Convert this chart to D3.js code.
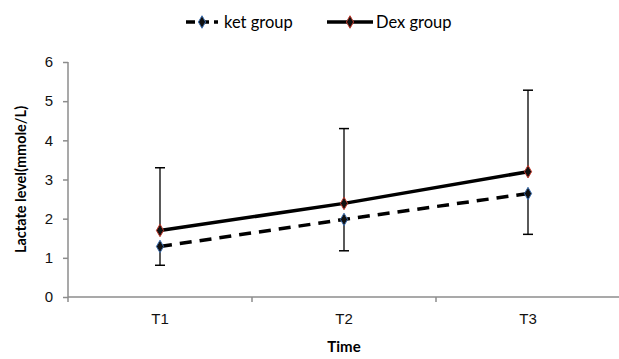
<!DOCTYPE html>
<html>
<head>
<meta charset="utf-8">
<script src="https://cdn.jsdelivr.net/npm/d3@7"></script>
<style>
  body { margin: 0; background: #fff; }
  svg { font-family: "Lato", "Open Sans", sans-serif; }
  .axis path, .axis line { stroke: #8c8c8c; stroke-width: 1.5; }
  .axis text { fill: #111; font-size: 15px; }
</style>
</head>
<body>
<svg id="chart"></svg>
<script>
var width = 619;
var height = 359;

var times = ["T1", "T2", "T3"];
var ketMean = [1.29, 1.98, 2.64];
var dexMean = [1.70, 2.39, 3.20];
// upper whisker belongs to Dex, lower whisker to ket
var dexUpper = [3.30, 4.30, 5.28];
var ketLower = [0.81, 1.18, 1.60];
var yTicks = [0, 1, 2, 3, 4, 5, 6];

var margin = {left: 68, right: -1, top: 62, bottom: 62};

var svg = d3.select("#chart").attr("width", width).attr("height", height);

var x = d3.scaleBand().domain(times).range([margin.left, width - margin.right]);
var y = d3.scaleLinear().domain([0, 6]).range([height - margin.bottom, margin.top]);

function cx(d) { return x(d) + x.bandwidth() / 2; }

// axes
var yAxis = d3.axisLeft(y).tickValues(yTicks).tickFormat(d3.format("d")).tickSize(5).tickPadding(10);
svg.append("g").attr("class", "axis")
    .attr("transform", "translate(" + margin.left + ",0)")
    .call(yAxis)
    .call(function(g) { g.select(".domain").attr("d", "M0," + y(6) + "V" + y(0)); });

var xAxis = d3.axisBottom(x).tickSize(0).tickPadding(16);
var gx = svg.append("g").attr("class", "axis")
    .attr("transform", "translate(0," + y(0) + ")")
    .call(xAxis);
gx.select(".domain").attr("d", "M" + margin.left + ",0H" + width);
gx.selectAll(".sep").data(times).enter().append("line")
    .attr("x1", function(d) { return x(d); }).attr("x2", function(d) { return x(d); })
    .attr("y1", 0).attr("y2", 5)
    .attr("stroke", "#8c8c8c").attr("stroke-width", 1.5);

// error bars
function errBar(vals, means) {
    svg.append("g").selectAll("g").data(times).enter().append("g").each(function(d, i) {
        var g = d3.select(this);
        g.append("line").attr("x1", cx(d)).attr("x2", cx(d))
            .attr("y1", y(means[i])).attr("y2", y(vals[i]))
            .attr("stroke", "#000").attr("stroke-width", 1.3);
        g.append("line").attr("x1", cx(d) - 5).attr("x2", cx(d) + 5)
            .attr("y1", y(vals[i])).attr("y2", y(vals[i]))
            .attr("stroke", "#000").attr("stroke-width", 1.5);
    });
}
errBar(dexUpper, dexMean);
errBar(ketLower, ketMean);

// lines
var line = d3.line().x(function(d, i) { return cx(times[i]); }).y(function(d) { return y(d); });

svg.append("path").datum(ketMean).attr("d", line)
    .attr("fill", "none").attr("stroke", "#000").attr("stroke-width", 3.5)
    .attr("stroke-dasharray", "12,8");
svg.append("path").datum(dexMean).attr("d", line)
    .attr("fill", "none").attr("stroke", "#000").attr("stroke-width", 3.5);

var diamond = d3.symbol().type(d3.symbolDiamond).size(45);
function markers(vals, edge) {
    svg.append("g").selectAll("path").data(vals).enter().append("path")
        .attr("d", diamond)
        .attr("transform", function(d, i) { return "translate(" + cx(times[i]) + "," + y(d) + ")"; })
        .attr("fill", "#111").attr("stroke", edge).attr("stroke-width", 1);
}
markers(ketMean, "#3d6fb0");
markers(dexMean, "#c0392b");

// axis titles
svg.append("text").text("Time")
    .attr("x", cx("T2")).attr("y", 352)
    .attr("text-anchor", "middle").attr("font-weight", "bold").attr("font-size", 15);
svg.append("text").text("Lactate level(mmole/L)")
    .attr("transform", "rotate(-90, 21, " + y(3) + ")")
    .attr("x", 21).attr("y", y(3))
    .attr("dy", "0.35em")
    .attr("text-anchor", "middle").attr("font-weight", "bold").attr("font-size", 14.5);

// legend
var legendItems = [
    {name: "ket group", dash: "9,5", edge: "#3d6fb0", x0: 186, x1: 218, tx: 224},
    {name: "Dex group", dash: null, edge: "#c0392b", x0: 327, x1: 373, tx: 376}
];
var lg = svg.append("g").selectAll("g").data(legendItems).enter().append("g");
lg.append("line")
    .attr("x1", function(d) { return d.x0; }).attr("x2", function(d) { return d.x1; })
    .attr("y1", 22).attr("y2", 22)
    .attr("stroke", "#000").attr("stroke-width", 3.5)
    .attr("stroke-dasharray", function(d) { return d.dash; });
lg.append("path").attr("d", diamond)
    .attr("transform", function(d) { return "translate(" + (d.x0 + d.x1) / 2 + ",22)"; })
    .attr("fill", "#111").attr("stroke", function(d) { return d.edge; });
lg.append("text").text(function(d) { return d.name; })
    .attr("x", function(d) { return d.tx; }).attr("y", 22).attr("dy", "0.35em")
    .attr("font-size", 16.5);
</script>
</body>
</html>
